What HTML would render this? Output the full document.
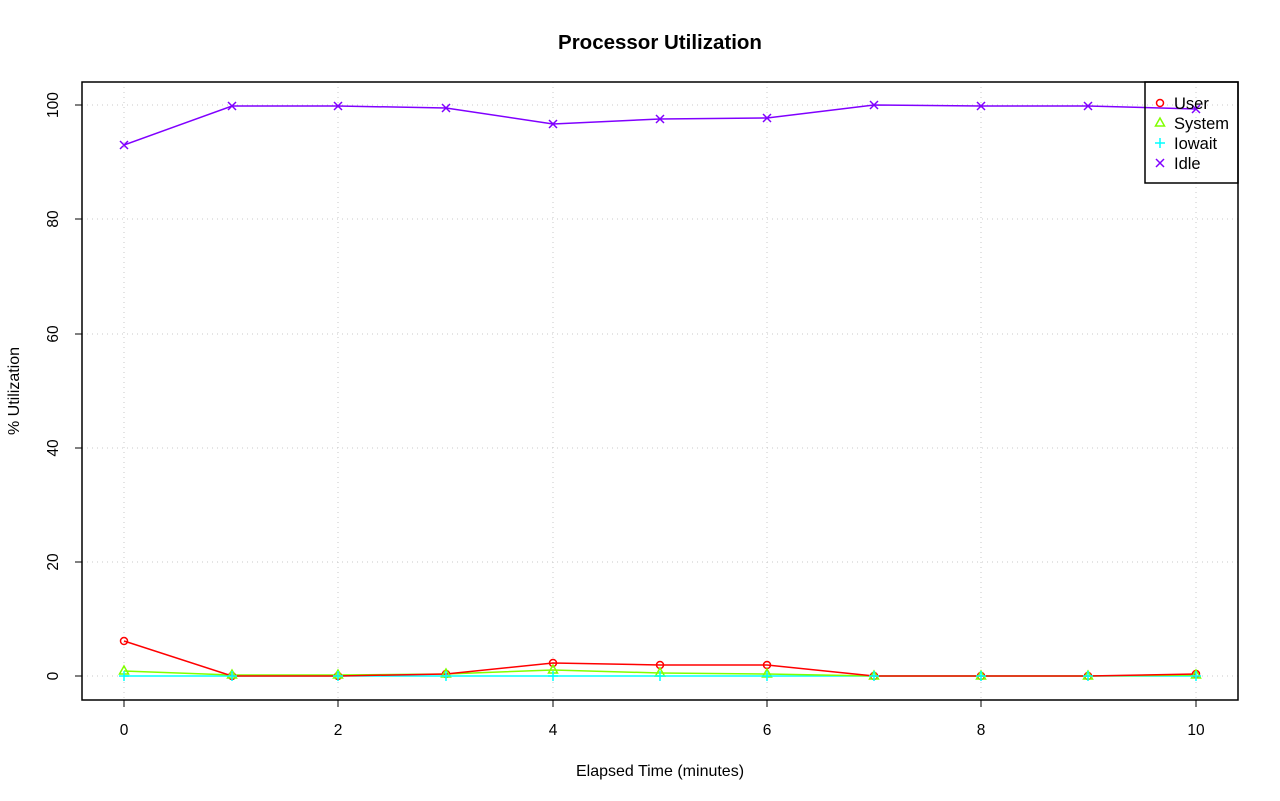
<!DOCTYPE html>
<html><head><meta charset="utf-8"><style>body{margin:0;background:#fff}svg{display:block}</style></head><body>
<svg width="1280" height="801" viewBox="0 0 1280 801" xmlns="http://www.w3.org/2000/svg" font-family="Liberation Sans, sans-serif">
<rect width="1280" height="801" fill="#fff"/>
<text x="660" y="49" text-anchor="middle" font-size="20.5" font-weight="bold">Processor Utilization</text>
<g stroke="#c8c8c8" stroke-dasharray="1,4" stroke-width="1">
<line x1="124" y1="82" x2="124" y2="700"/><line x1="338" y1="82" x2="338" y2="700"/><line x1="553" y1="82" x2="553" y2="700"/><line x1="767" y1="82" x2="767" y2="700"/><line x1="981" y1="82" x2="981" y2="700"/><line x1="1196" y1="82" x2="1196" y2="700"/>
<line x1="82" y1="105" x2="1238" y2="105"/><line x1="82" y1="219" x2="1238" y2="219"/><line x1="82" y1="334" x2="1238" y2="334"/><line x1="82" y1="448" x2="1238" y2="448"/><line x1="82" y1="562" x2="1238" y2="562"/><line x1="82" y1="676" x2="1238" y2="676"/>
</g>
<g fill="none" stroke-width="1.5">
<polyline stroke="#00ffff" points="124,676 232,676 338,676 446,676 553,676 660,676 767,676 874,676 981,676 1088,676 1196,676"/>
<polyline stroke="#80ff00" points="124,671 232,675 338,675 446,674 553,670 660,673 767,674 874,676 981,676 1088,676 1196,675"/>
<polyline stroke="#ff0000" points="124,641 232,676 338,676 446,674 553,663 660,665 767,665 874,676 981,676 1088,676 1196,674"/>
<polyline stroke="#8000ff" points="124,145 232,106 338,106 446,108 553,124 660,119 767,118 874,105 981,106 1088,106 1196,109"/>
</g>
<g fill="none" stroke-width="1.5">
<g stroke="#ff0000">
<circle cx="124" cy="641" r="3.5"/><circle cx="232" cy="676" r="3.5"/><circle cx="338" cy="676" r="3.5"/><circle cx="446" cy="674" r="3.5"/><circle cx="553" cy="663" r="3.5"/><circle cx="660" cy="665" r="3.5"/><circle cx="767" cy="665" r="3.5"/><circle cx="874" cy="676" r="3.5"/><circle cx="981" cy="676" r="3.5"/><circle cx="1088" cy="676" r="3.5"/><circle cx="1196" cy="674" r="3.5"/>
</g>
<g stroke="#80ff00">
<path d="M124,666l-4.5,8h9z M232,670l-4.5,8h9z M338,670l-4.5,8h9z M446,669l-4.5,8h9z M553,665l-4.5,8h9z M660,668l-4.5,8h9z M767,669l-4.5,8h9z M874,671l-4.5,8h9z M981,671l-4.5,8h9z M1088,671l-4.5,8h9z M1196,670l-4.5,8h9z"/>
</g>
<g stroke="#00ffff">
<path d="M119,676h10M124,671v10 M227,676h10M232,671v10 M333,676h10M338,671v10 M441,676h10M446,671v10 M548,676h10M553,671v10 M655,676h10M660,671v10 M762,676h10M767,671v10 M869,676h10M874,671v10 M976,676h10M981,671v10 M1083,676h10M1088,671v10 M1191,676h10M1196,671v10"/>
</g>
<g stroke="#8000ff">
<path d="M120,141l8,8m0,-8l-8,8 M228,102l8,8m0,-8l-8,8 M334,102l8,8m0,-8l-8,8 M442,104l8,8m0,-8l-8,8 M549,120l8,8m0,-8l-8,8 M656,115l8,8m0,-8l-8,8 M763,114l8,8m0,-8l-8,8 M870,101l8,8m0,-8l-8,8 M977,102l8,8m0,-8l-8,8 M1084,102l8,8m0,-8l-8,8 M1192,105l8,8m0,-8l-8,8"/>
</g>
</g>
<rect x="82" y="82" width="1156" height="618" fill="none" stroke="#000" stroke-width="1.5"/>
<g stroke="#000" stroke-width="1">
<line x1="124" y1="700" x2="124" y2="707"/><line x1="338" y1="700" x2="338" y2="707"/><line x1="553" y1="700" x2="553" y2="707"/><line x1="767" y1="700" x2="767" y2="707"/><line x1="981" y1="700" x2="981" y2="707"/><line x1="1196" y1="700" x2="1196" y2="707"/>
<line x1="75" y1="105" x2="82" y2="105"/><line x1="75" y1="219" x2="82" y2="219"/><line x1="75" y1="334" x2="82" y2="334"/><line x1="75" y1="448" x2="82" y2="448"/><line x1="75" y1="562" x2="82" y2="562"/><line x1="75" y1="676" x2="82" y2="676"/>
</g>
<g font-size="15.5" text-anchor="middle">
<text x="124" y="735">0</text><text x="338" y="735">2</text><text x="553" y="735">4</text><text x="767" y="735">6</text><text x="981" y="735">8</text><text x="1196" y="735">10</text>
<text transform="translate(58,676) rotate(-90)">0</text><text transform="translate(58,562) rotate(-90)">20</text><text transform="translate(58,448) rotate(-90)">40</text><text transform="translate(58,334) rotate(-90)">60</text><text transform="translate(58,219) rotate(-90)">80</text><text transform="translate(58,105) rotate(-90)">100</text>
</g>
<g font-size="16" text-anchor="middle">
<text x="660" y="776">Elapsed Time (minutes)</text>
<text transform="translate(19,391) rotate(-90)">% Utilization</text>
</g>
<rect x="1145" y="82" width="93" height="101" fill="none" stroke="#000" stroke-width="1.5"/>
<g fill="none" stroke-width="1.5">
<circle cx="1160" cy="103" r="3.5" stroke="#ff0000"/>
<path d="M1160,118l-4.5,8h9z" stroke="#80ff00"/>
<path d="M1155,143h10M1160,138v10" stroke="#00ffff"/>
<path d="M1156,159l8,8m0,-8l-8,8" stroke="#8000ff"/>
</g>
<g font-size="16.5">
<text x="1174" y="109">User</text><text x="1174" y="129">System</text><text x="1174" y="149">Iowait</text><text x="1174" y="169">Idle</text>
</g>
</svg>
</body></html>
